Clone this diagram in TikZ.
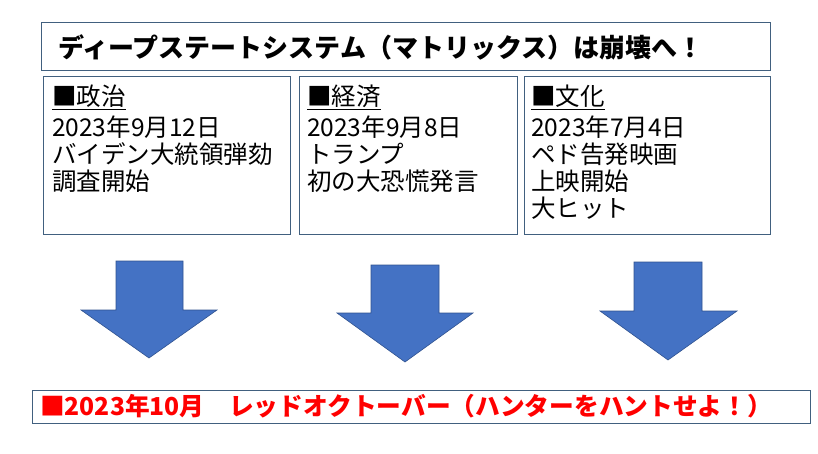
\documentclass[tikz,border=0pt]{standalone}
\usepackage{fontspec}
\setmainfont{Noto Sans CJK JP}
\definecolor{boxline}{HTML}{41607F}
\definecolor{arrowfill}{HTML}{4472C4}
\definecolor{arrowline}{HTML}{2F528F}
\definecolor{alertred}{HTML}{FF0000}
\tikzset{
  framebox/.style={draw=boxline, line width=1.2pt, anchor=north west, inner sep=0pt},
  itemtext/.style={anchor=north west, align=left, inner sep=0pt,
    font=\fontsize{24.5}{27}\selectfont},
  downarrow/.style={fill=arrowfill, draw=arrowline, line width=0.6pt}
}
\begin{document}
\begin{tikzpicture}[x=1pt, y=-1pt]
  \useasboundingbox (0,0) rectangle (818,453);
  % title
  \node[framebox, minimum width=729pt, minimum height=48pt] (title) at (41,22) {};
  \node[anchor=west, inner sep=0pt, font=\fontsize{26}{28}\bfseries] (titletext) at (58,47)
    {ディープステートシステム（マトリックス）は崩壊へ！};
  % three boxes
  \node[framebox, minimum width=247pt, minimum height=158pt] (politics) at (43,76) {};
  \node[framebox, minimum width=218pt, minimum height=158pt] (economy) at (299,76) {};
  \node[framebox, minimum width=246pt, minimum height=158pt] (culture) at (524,76) {};
  \node[itemtext] (politicstext) at (52,85)
    {\underline{■政治}\\[4pt]2023年9月12日\\バイデン大統領弾劾\\調査開始};
  \node[itemtext] (economytext) at (307,85)
    {\underline{■経済}\\[4pt]2023年9月8日\\トランプ\\初の大恐慌発言};
  \node[itemtext] (culturetext) at (531,85)
    {\underline{■文化}\\[4pt]2023年7月4日\\ペド告発映画\\上映開始\\大ヒット};
  % arrows
  \draw[downarrow] (116,261) -- (183,261) -- (183,310) -- (217,310) -- (149,358)
    -- (81,310) -- (116,310) -- cycle;
  \draw[downarrow] (371,265) -- (439,265) -- (439,313) -- (473,313) -- (405,362)
    -- (337,313) -- (371,313) -- cycle;
  \draw[downarrow] (634,262) -- (702,262) -- (702,311) -- (737,311) -- (668,360)
    -- (600,311) -- (634,311) -- cycle;
  % result
  \node[framebox, minimum width=778pt, minimum height=33pt] (result) at (32,390) {};
  \node[anchor=west, inner sep=0pt, text=alertred, font=\fontsize{24.7}{26}\bfseries]
    (resulttext) at (40,406.5)
    {■2023年10月　レッドオクトーバー（ハンターをハントせよ！）};
\end{tikzpicture}
\end{document}
